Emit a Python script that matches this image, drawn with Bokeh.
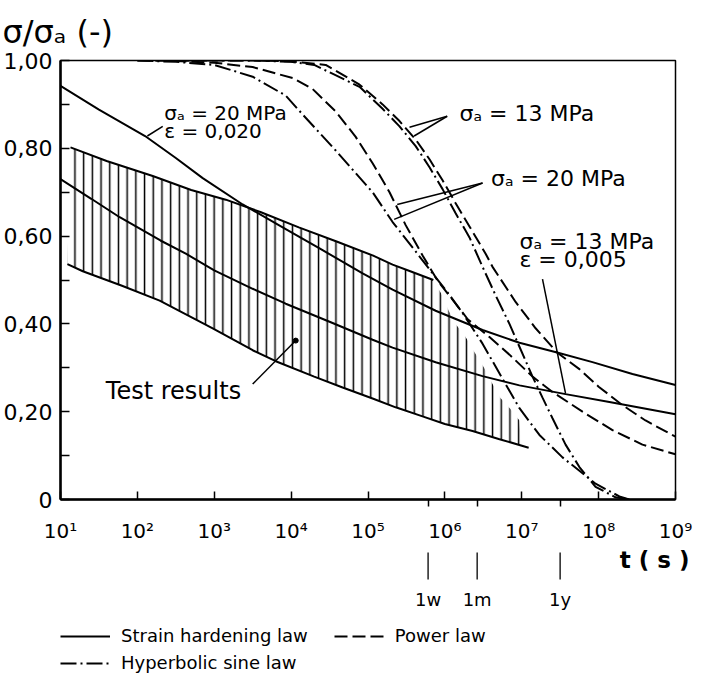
import numpy as np
from bokeh.plotting import figure
from bokeh.models import FixedTicker, Label, Legend, LegendItem, Range1d, Title
from bokeh.layouts import column
from bokeh.embed import file_html
from bokeh.resources import INLINE

FONT = "DejaVu Sans"

# ---- data: exponent of t (s) and sigma/sigma_a ----
sh20_logt = [1.0, 1.5, 2.1, 2.5, 2.85, 3.37, 3.93, 4.37, 4.93, 5.32, 5.88, 6.49, 6.97, 7.46, 7.92, 8.44, 9.0]
sh20_val = [0.942, 0.888, 0.828, 0.778, 0.732, 0.672, 0.616, 0.572, 0.515, 0.478, 0.43, 0.386, 0.357, 0.335, 0.313, 0.286, 0.261]

sh13_logt = [1.0, 1.4, 1.77, 2.3, 2.63, 3.0, 3.5, 3.93, 4.5, 5.06, 5.32, 5.88, 6.49, 6.97, 7.57, 8.14, 9.0]
sh13_val = [0.73, 0.685, 0.643, 0.59, 0.56, 0.522, 0.48, 0.446, 0.405, 0.364, 0.346, 0.3125, 0.281, 0.26, 0.24, 0.222, 0.194]

pw20_logt = [2.0, 2.5, 3.0, 3.5, 4.02, 4.28, 4.58, 4.84, 5.06, 5.28, 5.49, 5.71, 5.9, 6.1, 6.3, 6.58, 6.84, 7.14, 7.40, 7.79, 8.18, 8.57, 9.0]
pw20_val = [1.0, 0.999, 0.995, 0.985, 0.96, 0.935, 0.884, 0.826, 0.766, 0.70, 0.625, 0.556, 0.50, 0.455, 0.41, 0.37, 0.33, 0.28, 0.245, 0.20, 0.158, 0.125, 0.103]

hs20_logt = [2.0, 2.5, 3.0, 3.5, 3.93, 4.15, 4.58, 5.06, 5.32, 5.62, 5.84, 6.06, 6.23, 6.49, 6.75, 6.97, 7.23, 7.53, 7.96, 8.27, 8.4]
hs20_val = [1.0, 0.997, 0.99, 0.963, 0.92, 0.877, 0.795, 0.70, 0.632, 0.565, 0.515, 0.466, 0.425, 0.355, 0.275, 0.208, 0.147, 0.096, 0.036, 0.007, 0.0]

pw13_logt = [2.5, 3.5, 4.0, 4.45, 4.89, 5.19, 5.41, 5.62, 5.80, 5.97, 6.14, 6.32, 6.53, 6.62, 6.92, 7.18, 7.46, 7.75, 8.0, 8.31, 8.61, 9.0]
pw13_val = [1.0, 1.0, 0.998, 0.99, 0.945, 0.90, 0.862, 0.82, 0.775, 0.727, 0.675, 0.622, 0.56, 0.53, 0.45, 0.39, 0.335, 0.297, 0.257, 0.215, 0.18, 0.143]

hs13_logt = [2.5, 3.5, 4.0, 4.3, 4.89, 5.19, 5.41, 5.62, 5.80, 5.97, 6.14, 6.32, 6.49, 6.66, 6.84, 6.97, 7.14, 7.27, 7.40, 7.57, 7.75, 7.96, 8.22, 8.4]
hs13_val = [1.0, 1.0, 0.997, 0.99, 0.94, 0.89, 0.85, 0.805, 0.757, 0.707, 0.652, 0.597, 0.53, 0.465, 0.40, 0.348, 0.28, 0.232, 0.185, 0.125, 0.074, 0.029, 0.005, 0.0]

# test results band
band_top_logt = [1.13, 1.6, 2.2, 2.7, 3.15, 3.6, 4.1, 4.6, 5.06, 5.32, 5.55, 5.85]
band_top_val = [0.802, 0.771, 0.737, 0.705, 0.683, 0.655, 0.62, 0.587, 0.556, 0.535, 0.52, 0.50]
band_bot_logt = [1.09, 1.29, 1.8, 2.29, 2.98, 3.5, 3.8, 4.3, 4.67, 5.06, 5.36, 5.7, 6.0, 6.36, 6.7, 7.09]
band_bot_val = [0.536, 0.52, 0.487, 0.453, 0.39, 0.34, 0.315, 0.28, 0.255, 0.23, 0.21, 0.19, 0.172, 0.156, 0.138, 0.118]
hatch_end_logt = [5.95, 6.05, 6.14, 6.27, 6.38, 6.51, 6.62, 6.72, 6.85, 6.97, 6.99]
hatch_end_val = [0.47, 0.43, 0.40, 0.37, 0.337, 0.30, 0.263, 0.232, 0.207, 0.18, 0.125]

x_ticks = [1e1, 1e2, 1e3, 1e4, 1e5, 1e6, 1e7, 1e8, 1e9]
x_tick_labels = ["10¹", "10²", "10³", "10⁴", "10⁵", "10⁶", "10⁷", "10⁸", "10⁹"]
y_ticks = [0, 0.2, 0.4, 0.6, 0.8, 1.0]
y_tick_labels = ["0", "0,20", "0,40", "0,60", "0,80", "1,00"]
y_minor = [0.1, 0.3, 0.5, 0.7, 0.9]

marker_times = [604800, 2629800, 31557600]   # 1 week, 1 month, 1 year in s
marker_labels = ["1w", "1m", "1y"]

legend_labels = ["Strain hardening law", "Power law", "Hyperbolic sine law"]

# annotation pointers: (logt, value) start -> end
ptr_start_logt = [6.03, 6.03, 6.49, 6.49, 7.27, 2.33, 3.50]
ptr_start_val = [0.873, 0.873, 0.721, 0.721, 0.502, 0.85, 0.263]
ptr_end_logt = [5.54, 5.60, 5.38, 5.34, 7.57, 2.13, 4.06]
ptr_end_val = [0.848, 0.828, 0.672, 0.638, 0.241, 0.828, 0.362]


def T(logt):
    return 10 ** np.asarray(logt, dtype=float)


W = 693
LEFT, RIGHT = 60, 18
FRAME_W = W - LEFT - RIGHT
DEC = FRAME_W / 8.0          # px per decade

p = figure(width=W, height=545, x_axis_type="log",
           x_range=Range1d(1e1, 1e9), y_range=Range1d(0, 1),
           output_backend="svg", toolbar_location=None,
           min_border_left=LEFT, min_border_right=RIGHT,
           min_border_top=57, min_border_bottom=40)
p.grid.visible = False
p.outline_line_color = "black"
p.outline_line_width = 1.5
p.background_fill_color = "white"
p.border_fill_color = "white"
p.title = Title(text="σ/σₐ (-)", align="left", offset=-58, standoff=20,
                text_font=FONT, text_font_size="32px", text_font_style="normal",
                text_color="black")

xa = p.xaxis[0]
xa.ticker = FixedTicker(ticks=x_ticks, minor_ticks=marker_times)
xa.major_label_overrides = {t: l for t, l in zip(x_ticks, x_tick_labels)}
xa.major_tick_in = 8
xa.major_tick_out = 0
xa.minor_tick_in = 0
xa.minor_tick_out = 7
xa.axis_line_width = 2.5
xa.major_tick_line_width = 1.5
xa.minor_tick_line_width = 1.5
xa.major_label_text_font = FONT
xa.major_label_text_font_size = "20px"
xa.major_label_text_color = "black"
xa.major_label_standoff = 12

ya = p.yaxis[0]
ya.ticker = FixedTicker(ticks=y_ticks, minor_ticks=y_minor)
ya.major_label_overrides = {t: l for t, l in zip(y_ticks, y_tick_labels)}
ya.major_tick_in = 9
ya.major_tick_out = 0
ya.minor_tick_in = 9
ya.minor_tick_out = 0
ya.axis_line_width = 2.5
ya.major_tick_line_width = 1.5
ya.minor_tick_line_width = 1.5
ya.major_label_text_font = FONT
ya.major_label_text_font_size = "22px"
ya.major_label_text_color = "black"
ya.major_label_standoff = 8

# hatched test-result band
hx = list(band_top_logt) + list(hatch_end_logt) + [v for v in band_bot_logt[::-1] if v < 6.99]
hy = list(band_top_val) + list(hatch_end_val) + [b for a, b in zip(band_bot_logt[::-1], band_bot_val[::-1]) if a < 6.99]
p.patch(T(hx), hy, fill_color="white", fill_alpha=0, line_alpha=0,
        hatch_pattern="vertical_line", hatch_color="black",
        hatch_weight=1.5, hatch_scale=8.7)
p.line(T(band_top_logt), band_top_val, line_color="black", line_width=2)
p.line(T(band_bot_logt), band_bot_val, line_color="black", line_width=2)

DASH = "13 5"
DASHDOT = "16 4 2 4"
p.line(T(sh20_logt), sh20_val, line_color="black", line_width=2)
p.line(T(sh13_logt), sh13_val, line_color="black", line_width=2)
p.line(T(pw20_logt), pw20_val, line_color="black", line_width=2, line_dash=DASH)
p.line(T(pw13_logt), pw13_val, line_color="black", line_width=2, line_dash=DASH)
p.line(T(hs20_logt), hs20_val, line_color="black", line_width=2, line_dash=DASHDOT)
p.line(T(hs13_logt), hs13_val, line_color="black", line_width=2, line_dash=DASHDOT)

# pointers
p.segment(T(ptr_start_logt), ptr_start_val, T(ptr_end_logt), ptr_end_val,
          line_color="black", line_width=1.5)
p.scatter(T(ptr_end_logt[-1:]), ptr_end_val[-1:], size=5, color="black")


def lab(fig, x, y, text, size="21px", align="left", baseline="middle", style="normal"):
    fig.add_layout(Label(x=x, y=y, text=text,
                         text_font=FONT, text_font_size=size, text_color="black",
                         text_align=align, text_baseline=baseline, text_font_style=style))


lab(p, 10 ** 2.35, 0.88, "σₐ = 20 MPa", size="20px")
lab(p, 10 ** 2.35, 0.84, "ε  = 0,020", size="20px")
lab(p, 10 ** 6.19, 0.88, "σₐ = 13 MPa", size="22px")
lab(p, 10 ** 6.60, 0.732, "σₐ = 20 MPa", size="22px")
lab(p, 10 ** 6.97, 0.587, "σₐ = 13 MPa", size="22px")
lab(p, 10 ** 6.97, 0.547, "ε   = 0,005", size="22px")
lab(p, 10 ** 1.59, 0.248, "Test results", size="24px")

# ---- lower strip: time markers, t-axis title, legend (same x scale) ----
H2 = 131
p2 = figure(width=W, height=H2, x_axis_type="log",
            x_range=Range1d(10 ** (1 - LEFT / DEC), 10 ** (9 + RIGHT / DEC)),
            y_range=Range1d(H2, 0),
            output_backend="svg", toolbar_location=None,
            x_axis_location=None, y_axis_location=None,
            min_border=0, min_border_left=0, min_border_right=0,
            min_border_top=0, min_border_bottom=0)
p2.grid.visible = False
p2.outline_line_color = None
p2.background_fill_color = "white"
p2.border_fill_color = "white"

# keep the strip's own frame (do not align it with the chart frame)
for fig in (p, p2):
    if "frame_align" in fig.properties():
        fig.frame_align = False

p2.segment(marker_times, [7] * 3, marker_times, [34] * 3, line_color="black", line_width=1.3)
for t, l in zip(marker_times, marker_labels):
    lab(p2, t, 54, l, size="18px", align="center")
lab(p2, 10 ** (1 + (697 - 68) / DEC), 14, "t ( s )", size="23px", align="right", style="bold")

# legend key renderers (their data lie outside the visible strip)
hidden_x = x_ticks[:2]
hidden_y = [3 * H2, 3 * H2]
rA = p2.line(hidden_x, hidden_y, line_color="black", line_width=2)
rP = p2.line(hidden_x, hidden_y, line_color="black", line_width=2, line_dash=DASH)
rH = p2.line(hidden_x, hidden_y, line_color="black", line_width=2, line_dash=DASHDOT)

leg1 = Legend(items=[LegendItem(label=legend_labels[0], renderers=[rA]),
                     LegendItem(label=legend_labels[1], renderers=[rP])],
              orientation="horizontal", location=(60, 30))
leg2 = Legend(items=[LegendItem(label=legend_labels[2], renderers=[rH])],
              orientation="horizontal", location=(60, 3))
for lg in (leg1, leg2):
    lg.glyph_width = 50
    lg.glyph_height = 20
    lg.label_standoff = 11
    lg.spacing = 26
    lg.padding = 0
    lg.margin = 0
    lg.border_line_alpha = 0
    lg.background_fill_alpha = 0
    lg.label_text_font = FONT
    lg.label_text_font_size = "18px"
    lg.label_text_color = "black"
    lg.label_height = 20
    p2.add_layout(lg, "center")

open("out.html", "w").write(file_html(column(p, p2, spacing=0), INLINE))
